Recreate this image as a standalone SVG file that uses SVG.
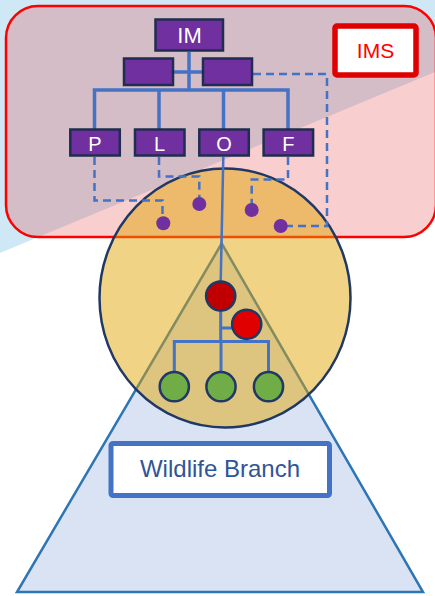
<svg xmlns="http://www.w3.org/2000/svg" width="435" height="596" viewBox="0 0 435 596">
<defs>
<style>
.box{fill:#7030a0;stroke:#1f2d50;stroke-width:2.5}
.lbl{font-family:"Liberation Sans",Arial,sans-serif;fill:#ffffff;text-anchor:middle}
.tree{fill:none;stroke:#4472c4;stroke-width:3.5;stroke-linejoin:miter}
.thin{fill:none;stroke:#4472c4;stroke-width:3}
.dash{fill:none;stroke:#4472c4;stroke-width:2.5;stroke-dasharray:8 5}
.dot{fill:#7030a0}
.green{fill:#70ad47;stroke:#1f3864;stroke-width:2.5}
</style>
</defs>
<rect x="0" y="0" width="435" height="596" fill="#ffffff"/>
<polygon points="0,0 435,0 435,72 0,253" fill="#cfe8f6"/>
<g id="ims-region">
<rect x="6" y="6" width="430" height="231" rx="32" fill="rgb(230,60,60)" fill-opacity="0.25" stroke="#ff0000" stroke-width="2.5"/>
</g>
<g id="wildlife-triangle">
<polygon points="221.7,243.5 17,592 423,592" fill="#dae3f3" stroke="#2e75b6" stroke-width="2.5"/>
</g>
<g id="circle">
<ellipse cx="225" cy="298" rx="125.5" ry="129.5" fill="rgb(224,163,0)" fill-opacity="0.48" stroke="#1f3864" stroke-width="2.5"/>
</g>
<g id="connectors">
<path class="tree" d="M189,52 V90"/>
<path class="tree" d="M174,72 H202"/>
<path class="tree" d="M94.5,129 V90 H288 V129"/>
<path class="tree" d="M159,90 V129"/>
<path class="tree" d="M223.5,90 V129"/>
<path fill="none" stroke="#4472c4" stroke-width="2.5" d="M223.3,157 L220.7,282"/>
<path class="thin" d="M220.7,311 V341.5"/>
<path class="thin" d="M221,328 H233"/>
<path class="thin" d="M174.3,372 V341.5 H268.5 V372"/>
<path class="thin" d="M221,341.5 V372"/>
<path class="dash" d="M94.5,157 V200.5 H162.5 V218"/>
<path class="dash" d="M159,157 V176.5 H199.3 V199"/>
<path class="dash" d="M288,157 V179.5 H251.7 V205"/>
<path class="dash" d="M253,74 H327 V226 H285"/>
</g>
<g id="node-im"><rect class="box" x="155.5" y="19.5" width="67.5" height="31"/><text class="lbl" x="189.5" y="42.5" font-size="22">IM</text></g>
<g id="node-deputy-left"><rect class="box" x="124" y="58.5" width="49" height="26.5"/></g>
<g id="node-deputy-right"><rect class="box" x="203" y="58.5" width="49" height="26.5"/></g>
<g id="node-p"><rect class="box" x="70.3" y="129.5" width="49.5" height="26"/><text class="lbl" x="95" y="150.5" font-size="20">P</text></g>
<g id="node-l"><rect class="box" x="135" y="129.5" width="49.5" height="26"/><text class="lbl" x="159.5" y="150.5" font-size="20">L</text></g>
<g id="node-o"><rect class="box" x="199.3" y="129.5" width="49.5" height="26"/><text class="lbl" x="224" y="150.5" font-size="20">O</text></g>
<g id="node-f"><rect class="box" x="263.6" y="129.5" width="49.5" height="26"/><text class="lbl" x="288.3" y="150.5" font-size="20">F</text></g>
<g id="dot-1"><circle class="dot" cx="163.3" cy="223.3" r="7"/></g>
<g id="dot-2"><circle class="dot" cx="199.3" cy="204" r="7"/></g>
<g id="dot-3"><circle class="dot" cx="251.7" cy="210" r="7"/></g>
<g id="dot-4"><circle class="dot" cx="280.7" cy="226" r="7"/></g>
<g id="node-red-1"><circle cx="220.7" cy="296" r="14.6" fill="#c00000" stroke="#1f3864" stroke-width="2.5"/></g>
<g id="node-red-2"><circle cx="246.7" cy="324.3" r="14.6" fill="#e00000" stroke="#1f3864" stroke-width="2.5"/></g>
<g id="node-green-1"><circle class="green" cx="174.3" cy="386.7" r="14.6"/></g>
<g id="node-green-2"><circle class="green" cx="221" cy="386.7" r="14.6"/></g>
<g id="node-green-3"><circle class="green" cx="268.5" cy="386.7" r="14.6"/></g>
<g id="label-ims"><rect x="335" y="26" width="81" height="49" rx="2" fill="#ffffff" stroke="#e00000" stroke-width="5.5"/><text x="375.5" y="57.5" font-family="Liberation Sans,Arial,sans-serif" font-size="21" fill="#ff0000" text-anchor="middle">IMS</text></g>
<g id="label-wildlife"><rect x="111" y="443.5" width="218.5" height="52" rx="2" fill="#ffffff" stroke="#4472c4" stroke-width="5"/><text x="220" y="477.3" font-family="Liberation Sans,Arial,sans-serif" font-size="24" fill="#2f5597" text-anchor="middle">Wildlife Branch</text></g>
</svg>
